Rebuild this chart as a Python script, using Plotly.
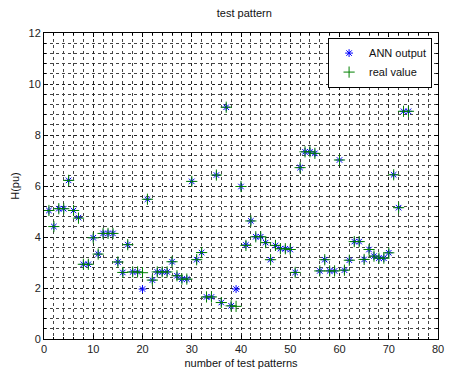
import plotly.graph_objects as go

patterns = list(range(1, 75))
ann_output = [5.04, 4.41, 5.11, 5.11, 6.22, 5.04, 4.76, 2.93, 2.93, 3.97,
              3.33, 4.14, 4.14, 4.14, 3.02, 2.61, 3.70, 2.63, 2.63, 1.96,
              5.48, 2.31, 2.63, 2.63, 2.63, 3.03, 2.48, 2.35, 2.35, 6.18,
              3.11, 3.39, 1.65, 1.65, 6.43, 1.43, 9.09, 1.30, 1.96, 5.98,
              3.69, 4.63, 4.01, 4.01, 3.78, 3.11, 3.67, 3.54, 3.54, 3.51,
              2.61, 6.72, 7.34, 7.34, 7.28, 2.67, 3.11, 2.67, 2.67, 7.02,
              2.70, 3.09, 3.82, 3.82, 3.12, 3.51, 3.25, 3.17, 3.17, 3.38,
              6.44, 5.15, 8.93, 8.93]
real_value = [5.04, 4.41, 5.11, 5.11, 6.22, 5.04, 4.74, 2.93, 2.93, 3.97,
              3.33, 4.14, 4.14, 4.14, 3.02, 2.61, 3.70, 2.63, 2.63, 2.60,
              5.48, 2.31, 2.63, 2.63, 2.63, 3.03, 2.48, 2.35, 2.35, 6.18,
              3.11, 3.39, 1.65, 1.65, 6.43, 1.43, 9.09, 1.30, 1.28, 5.98,
              3.67, 4.63, 4.01, 4.01, 3.78, 3.11, 3.67, 3.54, 3.54, 3.51,
              2.61, 6.72, 7.34, 7.34, 7.28, 2.67, 3.11, 2.67, 2.67, 7.02,
              2.70, 3.09, 3.82, 3.82, 3.12, 3.51, 3.25, 3.17, 3.17, 3.38,
              6.44, 5.15, 8.93, 8.93]

fnt = "Liberation Sans, Arial, sans-serif"

fig = go.Figure()
fig.add_trace(go.Scatter(
    x=patterns, y=ann_output, mode="markers", name="ANN output",
    marker=dict(symbol="asterisk-open", size=6.5, color="#0000ff",
                line=dict(color="#0000ff", width=1))))
fig.add_trace(go.Scatter(
    x=patterns, y=real_value, mode="markers", name="real value",
    marker=dict(symbol="cross-thin-open", size=8, color="#008000",
                line=dict(color="#008000", width=1))))

axis_common = dict(
    showline=True, linecolor="black", linewidth=1, mirror="ticks",
    ticks="inside", ticklen=4, tickcolor="black",
    showgrid=True, gridcolor="#222", gridwidth=1, griddash="dot",
    zeroline=False, tickfont=dict(size=11, color="#222", family=fnt),
)

fig.update_xaxes(range=[0, 80], dtick=10, tick0=0,
                 title=dict(text="number of test patterns", font=dict(size=11, family=fnt, color="#111"), standoff=5),
                 minor=dict(dtick=2, showgrid=True, gridcolor="#444", griddash="dot", gridwidth=1,
                            ticks="inside", ticklen=2, tickcolor="black"),
                 **axis_common)
fig.update_yaxes(range=[0, 12], dtick=2, tick0=0,
                 title=dict(text="H(pu)", font=dict(size=11, family=fnt, color="#111"), standoff=6),
                 minor=dict(dtick=0.4, showgrid=True, gridcolor="#444", griddash="dot", gridwidth=1,
                            ticks="inside", ticklen=2, tickcolor="black"),
                 **axis_common)

fig.update_layout(
    width=450, height=374,
    margin=dict(l=44, r=6, t=33, b=31),
    paper_bgcolor="white", plot_bgcolor="white",
    title=dict(text="test pattern", x=0.543, xanchor="center", y=0.965, yanchor="middle",
               font=dict(size=11, family=fnt, color="#111")),
    font=dict(family=fnt, size=11, color="#111"),
    legend=dict(x=0.985, xanchor="right", y=0.985, yanchor="top",
                bgcolor="white", bordercolor="black", borderwidth=1,
                font=dict(size=11, family=fnt, color="#111"),
                itemwidth=30, tracegroupgap=0),
    showlegend=True,
)

fig.write_html("out.html")
